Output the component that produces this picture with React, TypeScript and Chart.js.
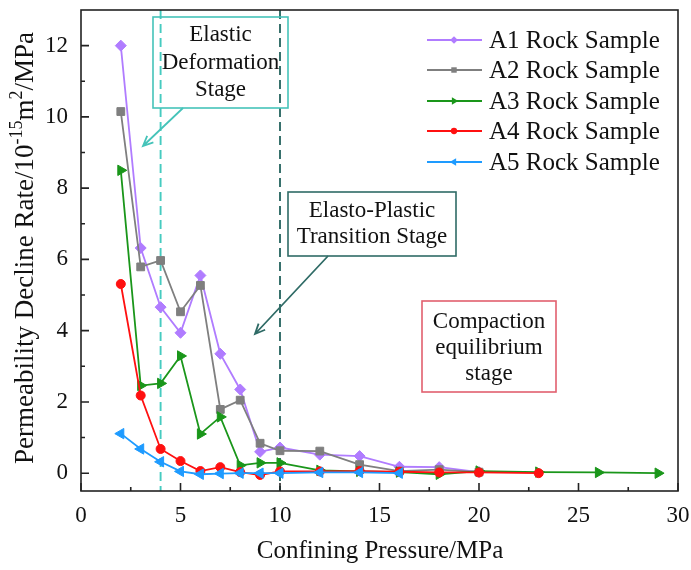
import React, { useEffect, useRef } from 'react';
import { Chart, registerables } from 'chart.js';

Chart.register(...registerables);

// Confining pressure (MPa) and permeability decline rate (10^-15 m^2/MPa) per rock sample
const a1Pressure = [2, 3, 4, 5, 6, 7, 8, 9, 10, 12, 14, 16, 18, 20];
const a1Rate = [12.0, 6.32, 4.66, 3.94, 5.55, 3.35, 2.35, 0.6, 0.72, 0.52, 0.48, 0.18, 0.17, 0.03];

const a2Pressure = [2, 3, 4, 5, 6, 7, 8, 9, 10, 12, 14, 16, 18, 20];
const a2Rate = [10.15, 5.79, 5.97, 4.53, 5.27, 1.79, 2.05, 0.84, 0.63, 0.62, 0.24, 0.06, 0.1, 0.03];

const a3Pressure = [2, 3, 4, 5, 6, 7, 8, 9, 10, 12, 14, 16, 18, 20, 23, 26, 29];
const a3Rate = [8.5, 2.46, 2.52, 3.29, 1.1, 1.58, 0.22, 0.29, 0.29, 0.08, 0.05, 0.03, -0.03, 0.06, 0.03, 0.02, 0.0];

const a4Pressure = [2, 3, 4, 5, 6, 7, 8, 9, 10, 12, 14, 16, 18, 20, 23];
const a4Rate = [5.31, 2.18, 0.68, 0.34, 0.06, 0.17, 0.03, -0.05, 0.05, 0.05, 0.06, 0.04, 0.02, 0.02, 0.0];

const a5Pressure = [2, 3, 4, 5, 6, 7, 8, 9, 10, 12, 14, 16];
const a5Rate = [1.11, 0.68, 0.32, 0.05, -0.03, -0.01, 0.0, 0.0, 0.0, 0.02, 0.02, 0.0];

const seriesNames = ['A1 Rock Sample', 'A2 Rock Sample', 'A3 Rock Sample', 'A4 Rock Sample', 'A5 Rock Sample'];
const seriesColors = ['#B07CFF', '#7F7F7F', '#1A961A', '#FF1010', '#1E9BFF'];

const xTicks = [0, 5, 10, 15, 20, 25, 30];
const xMinorTicks = [2.5, 7.5, 12.5, 17.5, 22.5, 27.5];
const yTicks = [0, 2, 4, 6, 8, 10, 12];
const yMinorTicks = [1, 3, 5, 7, 9, 11];

// Stage boundaries (MPa)
const stageBounds = [4, 10];
const stageBoundColors = ['#45CBC0', '#2F6B66'];

const FONT = "'Liberation Serif', 'Times New Roman', serif";

type Marker = { style: string; radius: number; rotation: number };
const markers: Marker[] = [
  { style: 'rectRot', radius: 5.5, rotation: 0 },
  { style: 'rect', radius: 5.5, rotation: 0 },
  { style: 'triangle', radius: 6, rotation: 90 },
  { style: 'circle', radius: 4.5, rotation: 0 },
  { style: 'triangle', radius: 6, rotation: -90 },
];

function toPoints(xs: number[], ys: number[]) {
  return xs.map((x, i) => ({ x, y: ys[i] }));
}

function drawArrow(ctx: CanvasRenderingContext2D, x1: number, y1: number, x2: number, y2: number, color: string) {
  const ang = Math.atan2(y2 - y1, x2 - x1);
  const head = 11;
  const spread = 0.42;
  ctx.save();
  ctx.strokeStyle = color;
  ctx.lineWidth = 1.8;
  ctx.beginPath();
  ctx.moveTo(x1, y1);
  ctx.lineTo(x2, y2);
  ctx.moveTo(x2 - head * Math.cos(ang - spread), y2 - head * Math.sin(ang - spread));
  ctx.lineTo(x2, y2);
  ctx.lineTo(x2 - head * Math.cos(ang + spread), y2 - head * Math.sin(ang + spread));
  ctx.stroke();
  ctx.restore();
}

function drawBox(ctx: CanvasRenderingContext2D, x: number, y: number, w: number, h: number, color: string, lines: string[], lineYs: number[]) {
  ctx.save();
  ctx.strokeStyle = color;
  ctx.lineWidth = 1.6;
  ctx.strokeRect(x, y, w, h);
  ctx.fillStyle = '#111';
  ctx.font = `23px ${FONT}`;
  ctx.textAlign = 'center';
  ctx.textBaseline = 'middle';
  lines.forEach((t, i) => ctx.fillText(t, x + w / 2, lineYs[i]));
  ctx.restore();
}

function drawMarker(ctx: CanvasRenderingContext2D, m: Marker, x: number, y: number, scale: number, color: string) {
  const r = m.radius * scale;
  ctx.save();
  ctx.fillStyle = color;
  ctx.translate(x, y);
  ctx.rotate((m.rotation * Math.PI) / 180);
  ctx.beginPath();
  if (m.style === 'circle') {
    ctx.arc(0, 0, r, 0, Math.PI * 2);
  } else if (m.style === 'rect') {
    const s = r * Math.SQRT1_2;
    ctx.rect(-s, -s, 2 * s, 2 * s);
  } else if (m.style === 'rectRot') {
    ctx.moveTo(0, -r);
    ctx.lineTo(r, 0);
    ctx.lineTo(0, r);
    ctx.lineTo(-r, 0);
    ctx.closePath();
  } else if (m.style === 'triangle') {
    ctx.moveTo(0, -r);
    ctx.lineTo(r * 0.866, r * 0.5);
    ctx.lineTo(-r * 0.866, r * 0.5);
    ctx.closePath();
  }
  ctx.fill();
  ctx.restore();
}

// Rotated y-axis title with superscript exponents
function drawYTitle(ctx: CanvasRenderingContext2D, cx: number, cy: number) {
  const size = 27;
  const supSize = 18;
  const parts = [
    { t: 'Permeability Decline Rate/10', sup: false },
    { t: '-15', sup: true },
    { t: 'm', sup: false },
    { t: '2', sup: true },
    { t: '/MPa', sup: false },
  ];
  ctx.save();
  ctx.translate(cx, cy);
  ctx.rotate(-Math.PI / 2);
  ctx.fillStyle = '#111';
  ctx.textBaseline = 'alphabetic';
  ctx.textAlign = 'left';
  let total = 0;
  parts.forEach((p) => {
    ctx.font = `${p.sup ? supSize : size}px ${FONT}`;
    total += ctx.measureText(p.t).width;
  });
  let x = -total / 2;
  const base = size * 0.33;
  parts.forEach((p) => {
    ctx.font = `${p.sup ? supSize : size}px ${FONT}`;
    ctx.fillText(p.t, x, p.sup ? base - size * 0.4 : base);
    x += ctx.measureText(p.t).width;
  });
  ctx.restore();
}

const decorPlugin = {
  id: 'decor',
  beforeDatasetsDraw(chart: any) {
    const { ctx, chartArea, scales } = chart;
    ctx.save();
    ctx.lineWidth = 1.9;
    ctx.setLineDash([9, 5]);
    stageBounds.forEach((v, i) => {
      const px = scales.x.getPixelForValue(v);
      ctx.strokeStyle = stageBoundColors[i];
      ctx.beginPath();
      ctx.moveTo(px, chartArea.top);
      ctx.lineTo(px, chartArea.bottom);
      ctx.stroke();
    });
    ctx.restore();
  },
  afterDatasetsDraw(chart: any) {
    const { ctx, chartArea, scales } = chart;
    const { left, right, top, bottom } = chartArea;

    // frame
    ctx.save();
    ctx.strokeStyle = '#222';
    ctx.lineWidth = 1.6;
    ctx.strokeRect(left, top, right - left, bottom - top);

    // inward tick marks
    ctx.beginPath();
    xTicks.forEach((v) => {
      const px = scales.x.getPixelForValue(v);
      ctx.moveTo(px, bottom);
      ctx.lineTo(px, bottom - 8);
    });
    xMinorTicks.forEach((v) => {
      const px = scales.x.getPixelForValue(v);
      ctx.moveTo(px, bottom);
      ctx.lineTo(px, bottom - 4);
    });
    yTicks.forEach((v) => {
      const py = scales.y.getPixelForValue(v);
      ctx.moveTo(left, py);
      ctx.lineTo(left + 8, py);
    });
    yMinorTicks.forEach((v) => {
      const py = scales.y.getPixelForValue(v);
      ctx.moveTo(left, py);
      ctx.lineTo(left + 4, py);
    });
    ctx.stroke();
    ctx.restore();

    // stage annotations
    drawBox(ctx, 153, 17, 135, 91, '#45C3B9', ['Elastic', 'Deformation', 'Stage'], [35, 63, 90]);
    drawArrow(ctx, 183, 108, 143, 146, '#45C3B9');
    drawBox(ctx, 288, 192, 168, 64, '#2F6B66', ['Elasto-Plastic', 'Transition Stage'], [211, 237]);
    drawArrow(ctx, 328, 256, 255, 334, '#2F6B66');
    drawBox(ctx, 422, 301, 134, 91, '#E2606E', ['Compaction', 'equilibrium', 'stage'], [322, 348, 374]);

    // legend
    const rows = [40, 70, 101, 131, 162];
    ctx.save();
    ctx.font = `25px ${FONT}`;
    ctx.textBaseline = 'middle';
    ctx.textAlign = 'left';
    seriesNames.forEach((name, i) => {
      const y = rows[i];
      ctx.strokeStyle = seriesColors[i];
      ctx.lineWidth = 1.8;
      ctx.beginPath();
      ctx.moveTo(427, y);
      ctx.lineTo(482, y);
      ctx.stroke();
      drawMarker(ctx, markers[i], 454, y, 0.7, seriesColors[i]);
      ctx.fillStyle = '#111';
      ctx.fillText(name, 489, y + 1);
    });
    ctx.restore();

    // x-axis title
    ctx.save();
    ctx.fillStyle = '#111';
    ctx.font = `25px ${FONT}`;
    ctx.textAlign = 'center';
    ctx.textBaseline = 'middle';
    ctx.fillText('Confining Pressure/MPa', 380, 551);
    ctx.restore();

    drawYTitle(ctx, 24, 248);
  },
};

export default function App() {
  const canvasRef = useRef<HTMLCanvasElement | null>(null);

  useEffect(() => {
    document.body.style.margin = '0';
    const canvas = canvasRef.current;
    if (!canvas) return;

    const xs = [a1Pressure, a2Pressure, a3Pressure, a4Pressure, a5Pressure];
    const ys = [a1Rate, a2Rate, a3Rate, a4Rate, a5Rate];

    const datasets = seriesNames.map((name, i) => ({
      label: name,
      data: toPoints(xs[i], ys[i]),
      borderColor: seriesColors[i],
      backgroundColor: seriesColors[i],
      pointBackgroundColor: seriesColors[i],
      pointBorderColor: seriesColors[i],
      pointBorderWidth: 1,
      borderWidth: 1.8,
      pointStyle: markers[i].style,
      pointRadius: markers[i].radius,
      pointRotation: markers[i].rotation,
      tension: 0,
      fill: false,
      order: 4 - i,
    }));

    const tickFont = { family: FONT, size: 23 };

    const chart = new Chart(canvas, {
      type: 'line',
      data: { datasets } as any,
      options: {
        responsive: false,
        animation: false,
        devicePixelRatio: 1,
        layout: { padding: { top: 10, right: 13, left: 0, bottom: 0 } },
        plugins: {
          legend: { display: false },
          tooltip: { enabled: false },
        },
        scales: {
          x: {
            type: 'linear',
            min: 0,
            max: 30,
            grid: { display: false, drawTicks: false },
            border: { display: false },
            afterFit: (s: any) => {
              s.height = 79;
              s.paddingLeft = 0;
              s.paddingRight = 0;
            },
            afterBuildTicks: (s: any) => {
              s.ticks = xTicks.map((v) => ({ value: v }));
            },
            ticks: { font: tickFont, color: '#111', padding: 11, maxRotation: 0 },
          },
          y: {
            type: 'linear',
            min: -0.5,
            max: 13,
            grid: { display: false, drawTicks: false },
            border: { display: false },
            afterFit: (s: any) => {
              s.width = 81;
              s.paddingTop = 0;
              s.paddingBottom = 0;
            },
            afterBuildTicks: (s: any) => {
              s.ticks = yTicks.map((v) => ({ value: v }));
            },
            ticks: { font: tickFont, color: '#111', padding: 13 },
          },
        },
      } as any,
      plugins: [decorPlugin],
    });

    return () => chart.destroy();
  }, []);

  return <canvas ref={canvasRef} width={691} height={570} style={{ display: 'block' }} />;
}
